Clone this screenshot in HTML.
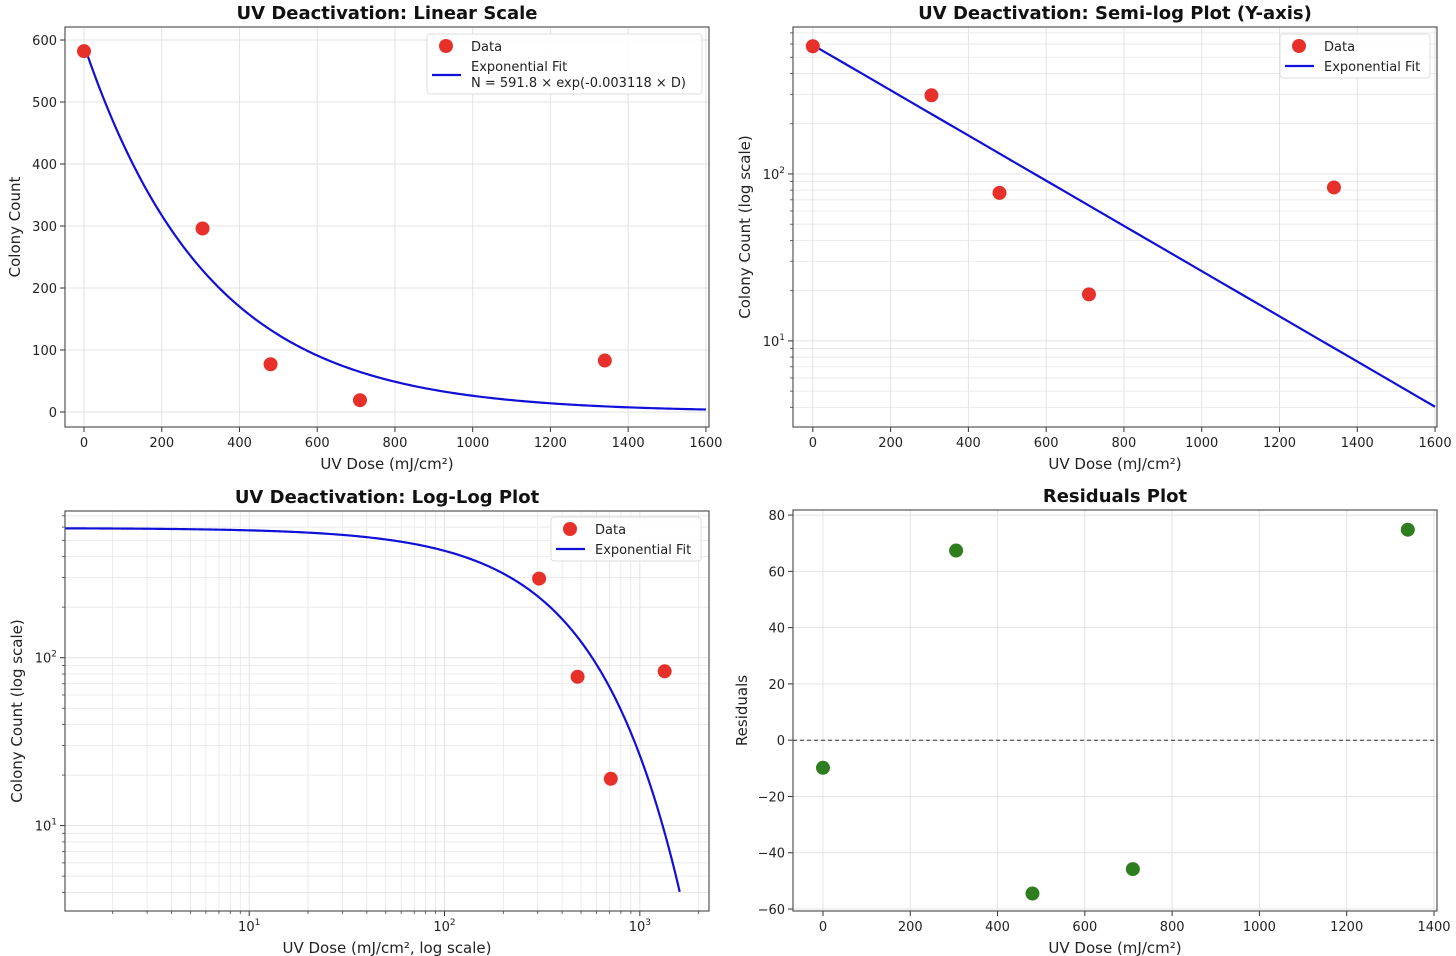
<!DOCTYPE html>
<html><head><meta charset="utf-8">
<style>
body{margin:0;background:#fff;}
svg{display:block;font-family:"DejaVu Sans","Liberation Sans",sans-serif;}
</style></head>
<body>
<svg id="fig" width="1456" height="956" viewBox="0 0 1456 956" xmlns="http://www.w3.org/2000/svg"></svg>
<script>
const doses = [0, 305, 480, 710, 1340];
const counts = [582, 296, 77, 19, 83];
const fitA = 591.8;
const fitK = 0.003118;
const residuals = [-9.8, 67.4, -54.5, -45.8, 74.8];
const linXTicks = [0, 200, 400, 600, 800, 1000, 1200, 1400, 1600];
const linYTicks = [0, 100, 200, 300, 400, 500, 600];
const resXTicks = [0, 200, 400, 600, 800, 1000, 1200, 1400];
const resYTicks = [-60, -40, -20, 0, 20, 40, 60, 80];

const NS = "http://www.w3.org/2000/svg";
const svg = document.getElementById('fig');
function el(tag, attrs, parent, text){
  const e = document.createElementNS(NS, tag);
  for (const k in attrs) e.setAttribute(k, attrs[k]);
  if (text !== undefined) e.textContent = text;
  (parent || svg).appendChild(e);
  return e;
}
function fitVal(d){ return fitA * Math.exp(-fitK * d); }

function makeScale(d0, d1, p0, p1, log){
  if (log) { const a = Math.log10(d0), b = Math.log10(d1);
    return v => p0 + (Math.log10(v) - a) / (b - a) * (p1 - p0); }
  return v => p0 + (v - d0) / (d1 - d0) * (p1 - p0);
}

function panel(cfg){
  const g = el('g', {});
  
  
  const {L, R, T, B} = cfg;
  const sx = makeScale(cfg.xd[0], cfg.xd[1], L, R, cfg.xlog);
  const sy = makeScale(cfg.yd[0], cfg.yd[1], B, T, cfg.ylog);
  const grid = el('g', {}, g);
  
  
  function logMinors(d0, d1){ const out = [];
    for (let e = Math.floor(Math.log10(d0)); e <= Math.ceil(Math.log10(d1)); e++)
      for (let m = 2; m <= 9; m++){ const v = m * Math.pow(10, e); if (v > d0 && v < d1) out.push(v);} return out; }
  function logMajors(d0, d1){ const out = [];
    for (let e = Math.floor(Math.log10(d0)); e <= Math.ceil(Math.log10(d1)); e++){ const v = Math.pow(10, e); if (v >= d0 && v <= d1) out.push(e);} return out; }
  const xMaj = cfg.xlog ? logMajors(cfg.xd[0], cfg.xd[1]) : cfg.xticks;
  const yMaj = cfg.ylog ? logMajors(cfg.yd[0], cfg.yd[1]) : cfg.yticks;
  if (cfg.xlog) logMinors(cfg.xd[0], cfg.xd[1]).forEach(v => {
    const x = sx(v); el('line', {x1:x, x2:x, y1:T, y2:B, stroke:'#e6e6e6', 'stroke-width':0.8}, grid);
    el('line', {x1:x, x2:x, y1:B, y2:B+3, stroke:'#444', 'stroke-width':0.8}, g); });
  if (cfg.ylog) logMinors(cfg.yd[0], cfg.yd[1]).forEach(v => {
    const y = sy(v); el('line', {x1:L, x2:R, y1:y, y2:y, stroke:'#e6e6e6', 'stroke-width':0.8}, grid);
    el('line', {x1:L-3, x2:L, y1:y, y2:y, stroke:'#444', 'stroke-width':0.8}, g); });
  xMaj.forEach(t => {
    const v = cfg.xlog ? Math.pow(10, t) : t; const x = sx(v);
    el('line', {x1:x, x2:x, y1:T, y2:B, stroke:'#e3e3e3', 'stroke-width':1}, grid);
    el('line', {x1:x, x2:x, y1:B, y2:B+5, stroke:'#333', 'stroke-width':1}, g);
    const tx = el('text', {x:x, y:B+20, 'text-anchor':'middle', 'font-size':13, fill:'#222'}, g);
    
    
    if (cfg.xlog){ tx.textContent = '10'; el('tspan', {dy:-6, 'font-size':9}, tx, String(t)); }
    else tx.textContent = String(t).replace('-', '−');
  });
  yMaj.forEach(t => {
    const v = cfg.ylog ? Math.pow(10, t) : t; const y = sy(v);
    el('line', {x1:L, x2:R, y1:y, y2:y, stroke:'#e3e3e3', 'stroke-width':1}, grid);
    el('line', {x1:L-5, x2:L, y1:y, y2:y, stroke:'#333', 'stroke-width':1}, g);
    const tx = el('text', {x:L-8, y:y+5, 'text-anchor':'end', 'font-size':13, fill:'#222'}, g);
    
    
    if (cfg.ylog){ tx.textContent = '10'; el('tspan', {dy:-6, 'font-size':9}, tx, String(t)); }
    else tx.textContent = String(t).replace('-', '−');
  });
  const clipId = 'c' + cfg.name;
  const cp = el('clipPath', {id:clipId}, g); el('rect', {x:L, y:T, width:R-L, height:B-T}, cp);
  const plot = el('g', {'clip-path':'url(#'+clipId+')'}, g);
  cfg.draw(plot, sx, sy);
  const frame = el('rect', {x:L, y:T, width:R-L, height:B-T, fill:'none', stroke:'#555', 'stroke-width':1.2}, g);
  
  
  const title = el('text', {x:(L+R)/2, y:T-8, 'text-anchor':'middle', 'font-size':18, 'font-weight':'bold', fill:'#111'}, g, cfg.title);
  
  
  const xl = el('text', {x:(L+R)/2, y:B+42, 'text-anchor':'middle', 'font-size':15, fill:'#222'}, g, cfg.xlabel);
  
  
  const yx = cfg.ylabelX, yy = (T+B)/2;
  const yl = el('text', {x:yx, y:yy, 'text-anchor':'middle', 'font-size':15, fill:'#222', transform:'rotate(-90 '+yx+' '+yy+')'}, g, cfg.ylabel);
  
  
  if (cfg.legend) cfg.legend(g);
}

function curve(plot, sx, sy, x0, x1, n, log){
  let d = '';
  for (let i = 0; i <= n; i++){
    const v = log ? Math.pow(10, Math.log10(x0) + (Math.log10(x1)-Math.log10(x0))*i/n) : x0 + (x1-x0)*i/n;
    d += (i ? 'L' : 'M') + sx(v).toFixed(2) + ',' + sy(fitVal(v)).toFixed(2);
  }
  const p = el('path', {d:d, fill:'none', stroke:'#1010d8', 'stroke-width':2.2}, plot);
  
  
}
function points(plot, sx, sy, xs, ys, color, name){
  xs.forEach((x, i) => {
    if (x <= 0 && name === 'loglog') return;
    const c = el('circle', {cx:sx(x), cy:sy(ys[i]), r:7, fill:color}, plot);
    
    
  });
}
function legend(g, x, y, w, h, lines){
  const lg = el('g', {}, g);
  
  
  el('rect', {x:x, y:y, width:w, height:h, rx:3, fill:'#fff', 'fill-opacity':0.85, stroke:'#ddd'}, lg);
  el('circle', {cx:x+19, cy:y+12, r:7, fill:'#e8302a'}, lg);
  el('text', {x:x+44, y:y+17, 'font-size':13, fill:'#222'}, lg, 'Data');
  el('line', {x1:x+5, x2:x+34, y1:y+(lines>1?41:32), y2:y+(lines>1?41:32), stroke:'#1010d8', 'stroke-width':2.2}, lg);
  el('text', {x:x+44, y:y+37, 'font-size':13, fill:'#222'}, lg, 'Exponential Fit');
  if (lines > 1) el('text', {x:x+44, y:y+53, 'font-size':13, fill:'#222'}, lg, 'N = 591.8 × exp(-0.003118 × D)');
}

panel({name:'linear-panel', L:65, R:709, T:27, B:427, xd:[-48.9,1608], yd:[-24.2,621],
  xticks:linXTicks, yticks:linYTicks, title:'UV Deactivation: Linear Scale',
  xlabel:'UV Dose (mJ/cm²)', ylabel:'Colony Count', ylabelX:20,
  draw:(p,sx,sy)=>{ curve(p,sx,sy,0,1600,200,false); points(p,sx,sy,doses,counts,'#e8302a','lin'); },
  legend:g=>legend(g,427,34,275,60,2)});
panel({name:'semilog-panel', L:793, R:1437, T:27, B:427, xd:[-51,1605], yd:[3.05,759], ylog:true,
  xticks:linXTicks, title:'UV Deactivation: Semi-log Plot (Y-axis)',
  xlabel:'UV Dose (mJ/cm²)', ylabel:'Colony Count (log scale)', ylabelX:750,
  draw:(p,sx,sy)=>{ curve(p,sx,sy,0,1600,50,false); points(p,sx,sy,doses,counts,'#e8302a','semi'); },
  legend:g=>legend(g,1280,34,150,44,1)});
panel({name:'loglog-panel', L:65, R:709, T:511, B:911, xd:[1.14,2260], yd:[3.1,748], xlog:true, ylog:true,
  title:'UV Deactivation: Log-Log Plot',
  xlabel:'UV Dose (mJ/cm², log scale)', ylabel:'Colony Count (log scale)', ylabelX:22,
  draw:(p,sx,sy)=>{ curve(p,sx,sy,1.14,1600,300,true); points(p,sx,sy,doses,counts,'#e8302a','loglog'); },
  legend:g=>legend(g,551,517,150,44,1)});
panel({name:'residuals-panel', L:793, R:1437, T:510, B:911, xd:[-68.7,1406.9], yd:[-60.7,81.8],
  xticks:resXTicks, yticks:resYTicks, title:'Residuals Plot',
  xlabel:'UV Dose (mJ/cm²)', ylabel:'Residuals', ylabelX:747,
  draw:(p,sx,sy)=>{
    const z = el('line', {x1:793, x2:1437, y1:sy(0), y2:sy(0), stroke:'#333', 'stroke-width':1, 'stroke-dasharray':'4,3'}, p);
    
    
    points(p,sx,sy,doses,residuals,'#2e7d1e','res'); }});
</script>
</body></html>
